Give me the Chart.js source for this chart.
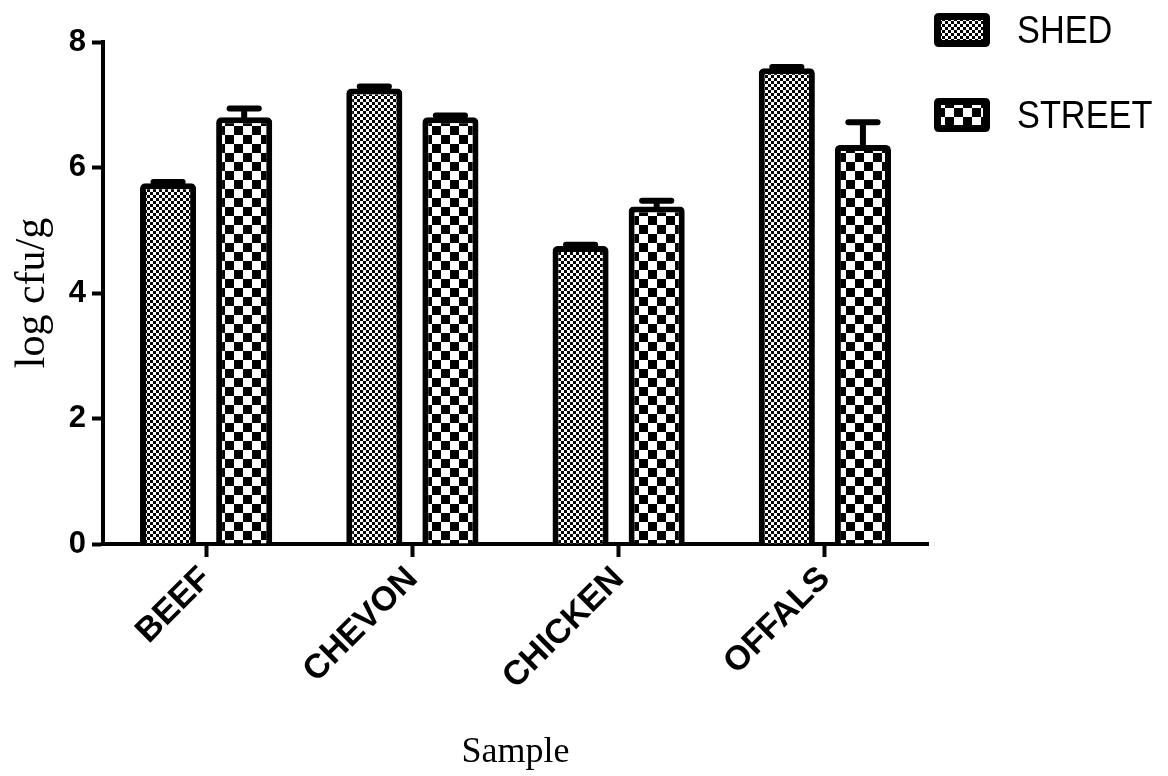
<!DOCTYPE html>
<html><head><meta charset="utf-8">
<style>html,body{margin:0;padding:0;background:#fff;}#wrap{width:1168px;height:776px;position:relative;}</style>
<script src="https://cdn.jsdelivr.net/npm/chart.js@4.4.1/dist/chart.umd.min.js"></script>
</head><body><div id="wrap"><canvas id="c" width="1168" height="776"></canvas></div>
<script>
const categories = ['BEEF', 'CHEVON', 'CHICKEN', 'OFFALS'];
const seriesNames = ['SHED', 'STREET'];
const shedMeans = [5.75, 7.26, 4.75, 7.58];
const shedErrors = [0.02, 0.03, 0.02, 0.02];
const streetMeans = [6.80, 6.80, 5.38, 6.36];
const streetErrors = [0.14, 0.03, 0.09, 0.36];
const yTicks = [0, 2, 4, 6, 8];
const yTitle = 'log cfu/g';
const xTitle = 'Sample';

const canvas = document.getElementById('c');
const mainCtx = canvas.getContext('2d');
function checker(cell) {
  const t = document.createElement('canvas');
  t.width = t.height = cell * 2;
  const g = t.getContext('2d');
  g.fillStyle = '#fff'; g.fillRect(0, 0, cell * 2, cell * 2);
  g.fillStyle = '#000'; g.fillRect(0, 0, cell, cell); g.fillRect(cell, cell, cell, cell);
  return mainCtx.createPattern(t, 'repeat');
}
const shedPattern = checker(3);
const streetPattern = checker(9);

const errorBars = {
  id: 'errorBars',
  afterDatasetsDraw(chart) {
    const ctx = chart.ctx, y = chart.scales.y;
    chart.data.datasets.forEach((ds, i) => {
      const meta = chart.getDatasetMeta(i);
      meta.data.forEach((bar, j) => {
        const v = ds.data[j], e = ds.errors[j];
        const top = y.getPixelForValue(v + e), base = y.getPixelForValue(v);
        const half = bar.width * 0.26;
        ctx.save();
        ctx.strokeStyle = '#000'; ctx.lineWidth = 6;
        ctx.lineCap = 'butt';
        ctx.beginPath(); ctx.moveTo(bar.x, base + 3); ctx.lineTo(bar.x, top); ctx.stroke();
        ctx.lineCap = 'round';
        ctx.beginPath(); ctx.moveTo(bar.x - half, top); ctx.lineTo(bar.x + half, top); ctx.stroke();
        ctx.restore();
      });
    });
  }
};

function roundRect(ctx, x, y, w, h, r) {
  ctx.beginPath();
  ctx.moveTo(x + r, y); ctx.lineTo(x + w - r, y); ctx.quadraticCurveTo(x + w, y, x + w, y + r);
  ctx.lineTo(x + w, y + h - r); ctx.quadraticCurveTo(x + w, y + h, x + w - r, y + h);
  ctx.lineTo(x + r, y + h); ctx.quadraticCurveTo(x, y + h, x, y + h - r);
  ctx.lineTo(x, y + r); ctx.quadraticCurveTo(x, y, x + r, y); ctx.closePath();
}

const customLegend = {
  id: 'customLegend',
  afterDraw(chart) {
    const ctx = chart.ctx;
    chart.data.datasets.forEach((ds, i) => {
      const bx = 934, by = 13 + i * 85;
      ctx.save();
      ctx.fillStyle = '#000';
      roundRect(ctx, bx, by, 56, 34, 5); ctx.fill();
      ctx.fillStyle = ds.backgroundColor;
      ctx.fillRect(bx + 7, by + 7, 42, 20);
      ctx.fillStyle = '#000';
      ctx.font = '39px "Liberation Sans", Arial, sans-serif';
      ctx.textBaseline = 'alphabetic';
      ctx.translate(1017, by + 30);
      ctx.scale(0.88, 1);
      ctx.fillText(ds.label, 0, 0);
      ctx.restore();
    });
  }
};

new Chart(canvas, {
  type: 'bar',
  data: {
    labels: categories,
    datasets: [
      { label: seriesNames[0], data: shedMeans, errors: shedErrors, backgroundColor: shedPattern, borderColor: '#000', borderWidth: 6, borderRadius: 5, borderSkipped: 'start' },
      { label: seriesNames[1], data: streetMeans, errors: streetErrors, backgroundColor: streetPattern, borderColor: '#000', borderWidth: 6, borderRadius: 5, borderSkipped: 'start' }
    ]
  },
  options: {
    responsive: false, animation: false, devicePixelRatio: 1,
    categoryPercentage: 0.738, barPercentage: 0.737,
    layout: { padding: { top: 42, right: 240, left: 0, bottom: 0 } },
    plugins: { legend: { display: false }, tooltip: { enabled: false } },
    scales: {
      x: {
        grid: { display: true, offset: false, drawOnChartArea: false, drawTicks: true, tickLength: 13, tickWidth: 4, tickColor: '#000' },
        border: { display: true, color: '#000', width: 4 },
        ticks: { color: '#000', font: { family: 'Liberation Sans', weight: 'bold', size: 34 }, minRotation: 45, maxRotation: 45, padding: 2 },
        title: { display: true, text: xTitle, color: '#000', font: { family: 'Liberation Serif', size: 36, lineHeight: 1 }, padding: { top: 0, bottom: 5 } },
        afterFit(s) { s.height = 232; }
      },
      y: {
        min: 0, max: 8,
        afterBuildTicks(s) { s.ticks = yTicks.map(v => ({ value: v })); },
        grid: { display: true, drawOnChartArea: false, drawTicks: true, tickLength: 11, tickWidth: 4, tickColor: '#000' },
        border: { display: true, color: '#000', width: 4 },
        ticks: { color: '#000', font: { family: 'Liberation Sans', weight: 'bold', size: 31 }, padding: 6 },
        title: { display: true, text: yTitle, color: '#000', font: { family: 'Liberation Serif', size: 42, lineHeight: 1 }, padding: { top: 12, bottom: 0 } },
        afterFit(s) { s.width = 103; }
      }
    }
  },
  plugins: [errorBars, customLegend]
});
</script></body></html>
